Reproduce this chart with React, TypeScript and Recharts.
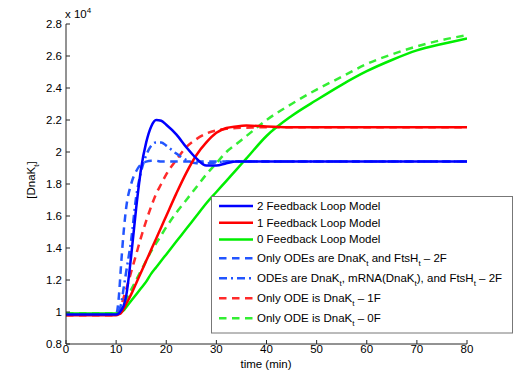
import React from "react";
import { LineChart, Line, XAxis, YAxis } from "recharts";

const font = '"Liberation Sans", Arial, Helvetica, sans-serif';

// time (min)
const time = [0, 10, 10.5, 11, 11.5, 12, 13, 14, 15, 16, 17, 18, 19, 20, 22, 24, 26, 28, 30, 32, 34, 36, 40, 45, 50, 55, 60, 65, 70, 75, 80];

// [DnaK_t] in units of 10^4
const twoLoop = [0.985, 0.985, 0.99, 1.01, 1.04, 1.1, 1.35, 1.65, 1.9, 2.06, 2.16, 2.2, 2.195, 2.17, 2.11, 2.03, 1.96, 1.915, 1.915, 1.93, 1.94, 1.94, 1.94, 1.94, 1.94, 1.94, 1.94, 1.94, 1.94, 1.94, 1.94];
const oneLoop = [0.98, 0.98, 0.985, 0.995, 1.02, 1.05, 1.11, 1.18, 1.25, 1.32, 1.39, 1.46, 1.53, 1.6, 1.74, 1.87, 1.98, 2.06, 2.12, 2.15, 2.16, 2.165, 2.16, 2.155, 2.155, 2.155, 2.155, 2.155, 2.155, 2.155, 2.155];
const zeroLoop = [0.99, 0.99, 0.99, 1.0, 1.01, 1.03, 1.07, 1.11, 1.15, 1.19, 1.24, 1.28, 1.32, 1.36, 1.44, 1.52, 1.6, 1.68, 1.75, 1.82, 1.89, 1.96, 2.1, 2.225, 2.325, 2.42, 2.505, 2.575, 2.635, 2.675, 2.71];
const odeTwo = [0.985, 0.985, 1.08, 1.3, 1.5, 1.65, 1.8, 1.88, 1.925, 1.94, 1.945, 1.945, 1.94, 1.94, 1.94, 1.94, 1.94, 1.94, 1.94, 1.94, 1.94, 1.94, 1.94, 1.94, 1.94, 1.94, 1.94, 1.94, 1.94, 1.94, 1.94];
const odeMrna = [0.985, 0.985, 1.0, 1.05, 1.15, 1.25, 1.45, 1.72, 1.88, 1.98, 2.04, 2.06, 2.06, 2.04, 1.99, 1.95, 1.93, 1.93, 1.935, 1.94, 1.94, 1.94, 1.94, 1.94, 1.94, 1.94, 1.94, 1.94, 1.94, 1.94, 1.94];
const odeOne = [0.98, 0.98, 1.0, 1.04, 1.09, 1.14, 1.25, 1.36, 1.47, 1.57, 1.66, 1.74, 1.8, 1.86, 1.95, 2.03, 2.08, 2.115, 2.135, 2.145, 2.15, 2.152, 2.155, 2.155, 2.155, 2.155, 2.155, 2.155, 2.155, 2.155, 2.155];
const odeZero = [0.99, 0.99, 0.995, 1.02, 1.05, 1.08, 1.14, 1.2, 1.26, 1.32, 1.38, 1.43, 1.48, 1.53, 1.62, 1.7, 1.78, 1.86, 1.93, 2.0, 2.05, 2.1, 2.2, 2.3, 2.39, 2.47, 2.55, 2.61, 2.66, 2.7, 2.73];

const xTicks = [0, 10, 20, 30, 40, 50, 60, 70, 80];
const yTicks = [0.8, 1, 1.2, 1.4, 1.6, 1.8, 2, 2.2, 2.4, 2.6, 2.8];

// "_t" marks a subscript t
const series = [
  { key: "twoLoop", values: twoLoop, label: "2 Feedback Loop Model", color: "#0000ff", dash: undefined },
  { key: "oneLoop", values: oneLoop, label: "1 Feedback Loop Model", color: "#ff0000", dash: undefined },
  { key: "zeroLoop", values: zeroLoop, label: "0 Feedback Loop Model", color: "#00ee00", dash: undefined },
  { key: "odeTwo", values: odeTwo, label: "Only ODEs are DnaK_t and FtsH_t \u2013 2F", color: "#2255ff", dash: "7.5 5.5" },
  { key: "odeMrna", values: odeMrna, label: "ODEs are DnaK_t, mRNA(DnaK_t), and FtsH_t \u2013 2F", color: "#2255ff", dash: "8 4 2 4" },
  { key: "odeOne", values: odeOne, label: "Only ODE is DnaK_t \u2013 1F", color: "#ff2a2a", dash: "7.5 5.5" },
  { key: "odeZero", values: odeZero, label: "Only ODE is DnaK_t \u2013 0F", color: "#33ee33", dash: "7.5 5.5" },
];

const data = time.map((t, i) => {
  const row: Record<string, number> = { t };
  series.forEach((s) => (row[s.key] = s.values[i]));
  return row;
});

function SubText({ text, x, y }: { text: string; x: number; y: number }) {
  const parts = text.split("_t");
  const out: React.ReactNode[] = [];
  parts.forEach((p, i) => {
    out.push(
      <tspan key={"p" + i} dy={i > 0 ? -3.5 : 0}>
        {p}
      </tspan>
    );
    if (i < parts.length - 1) {
      out.push(
        <tspan key={"s" + i} dy={3.5} fontSize={8}>
          t
        </tspan>
      );
    }
  });
  return (
    <text x={x} y={y} fontSize={11.5} fontFamily={font} fill="#000" style={{ whiteSpace: "pre" }}>
      {out}
    </text>
  );
}

function LegendBox() {
  const rowY = series.map((_, i) => (i < 3 ? 10 + i * 16.7 : 62.3 + (i - 3) * 20));
  return (
    <svg width={302} height={138} style={{ position: "absolute", left: 211, top: 196 }}>
      <rect x={0.5} y={0.5} width={301} height={136.5} fill="#fff" stroke="#777" />
      {series.map((s, i) => (
        <g key={s.key}>
          <line x1={8} x2={42} y1={rowY[i]} y2={rowY[i]} stroke={s.color} strokeWidth={2.5} strokeDasharray={s.dash} />
          <SubText text={s.label} x={46} y={rowY[i] + 4} />
        </g>
      ))}
    </svg>
  );
}

export default function App() {
  const tickStyle = { fontSize: 11.5, fill: "#000", fontFamily: font };
  return (
    <div style={{ position: "fixed", left: 0, top: 0, width: 518, height: 373, background: "#fff", fontFamily: font }}>
      <LineChart width={518} height={373} data={data} margin={{ top: 24, right: 51, bottom: 0, left: 0 }}>
        <XAxis
          dataKey="t"
          type="number"
          domain={[0, 80]}
          ticks={xTicks}
          tickSize={-4}
          tickMargin={5}
          height={29}
          stroke="#262626"
          tick={tickStyle}
          allowDataOverflow
        />
        <XAxis
          xAxisId="top"
          orientation="top"
          dataKey="t"
          type="number"
          domain={[0, 80]}
          ticks={xTicks}
          tickSize={-4}
          height={0}
          stroke="#262626"
          tickFormatter={() => ""}
        />
        <YAxis
          type="number"
          domain={[0.8, 2.8]}
          ticks={yTicks}
          tickSize={-4}
          tickMargin={8}
          width={66}
          stroke="#262626"
          tick={tickStyle}
          allowDataOverflow
        />
        <YAxis
          yAxisId="right"
          orientation="right"
          type="number"
          domain={[0.8, 2.8]}
          ticks={yTicks}
          tickSize={-4}
          width={0}
          stroke="#262626"
          tickFormatter={() => ""}
        />
        {[...series].reverse().map((s) => (
          <Line
            key={s.key}
            dataKey={s.key}
            type="monotone"
            stroke={s.color}
            strokeWidth={2.5}
            strokeDasharray={s.dash}
            dot={false}
            activeDot={false}
            isAnimationActive={false}
          />
        ))}
      </LineChart>
      <div style={{ position: "absolute", left: 65, top: 6, fontSize: 11.5, color: "#000" }}>
        x 10<sup style={{ fontSize: 8 }}>4</sup>
      </div>
      <div
        style={{
          position: "absolute",
          left: 33,
          top: 180,
          transform: "translate(-50%, -50%) rotate(-90deg)",
          fontSize: 11.5,
          whiteSpace: "nowrap",
          color: "#000",
        }}
      >
        [DnaK<sub style={{ fontSize: 8 }}>t</sub>]
      </div>
      <div style={{ position: "absolute", left: 266, top: 358, transform: "translateX(-50%)", fontSize: 11.5, color: "#000" }}>
        time (min)
      </div>
      <LegendBox />
    </div>
  );
}
